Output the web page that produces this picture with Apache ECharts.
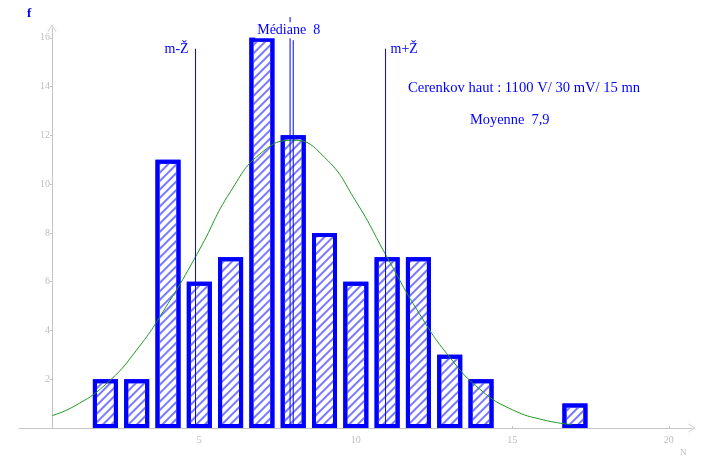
<!DOCTYPE html>
<html>
<head>
<meta charset="utf-8">
<script src="https://cdn.jsdelivr.net/npm/echarts@6/dist/echarts.min.js"></script>
<style>
  html, body { margin: 0; padding: 0; background: #fff; }
  #chart { width: 704px; height: 460px; }
</style>
</head>
<body>
<div id="chart"></div>
<script>
// Counts per class N (Cerenkov, top detector)
const classesN = [2, 3, 4, 5, 6, 7, 8, 9, 10, 11, 12, 13, 14, 17];
const counts   = [2, 2, 11, 6, 7, 16, 12, 8, 6, 7, 7, 3, 2, 1];

// Fitted normal curve, sampled points (N, f)
const curveN = [0.3, 1, 2, 3, 4, 5, 6, 7, 8, 9, 10, 11, 12, 13, 14, 15, 16, 16.9];
const curveF = [0.51, 0.89, 1.78, 3.2, 5.1, 7.3, 9.7, 11.3, 11.8, 11.1, 9.3, 7.0, 4.75, 2.9, 1.55, 0.75, 0.33, 0.14];

// Reference lines: position on N and height of the guide
const mean = 7.9;
const median = 8;
const meanMinusSigma = 4.88;
const meanPlusSigma = 10.95;
const sigmaGuideTop = 15.55;
const medianGuideTop = 15.9;
const meanGuideTop = 16.85;

const yTickValues = [2, 4, 6, 8, 10, 12, 14, 16];
const xTickValues = [5, 10, 15, 20];

const serif = '"Liberation Serif", "DejaVu Serif", serif';
const blue = '#0000ff';
const axisGrey = '#c4c4c4';
const chevron = 'path://M0,0 L6,10 L5,10 L0,2 L-5,10 L-6,10 Z';

const chart = echarts.init(document.getElementById('chart'), null, { renderer: 'canvas' });

const barData = classesN.map((n, i) => [n, counts[i]]);
const curveData = curveN.map((n, i) => [n, curveF[i]]);

// vertical guide drawn as a two-point line series, labelled at its top
function guide(x, top, text, labelOpts, z) {
  return {
    type: 'line',
    data: [[x, 0], [x, top]],
    showSymbol: false,
    symbol: 'none',
    clip: false,
    silent: true,
    z: z,
    color: blue,
    lineStyle: { color: blue, width: 1 },
    endLabel: text ? Object.assign({
      show: true,
      formatter: text,
      color: blue,
      fontFamily: serif,
      fontSize: 14,
      valueAnimation: false
    }, labelOpts) : { show: false }
  };
}

chart.setOption({
  animation: false,
  backgroundColor: '#ffffff',
  grid: { left: 19, right: 12, top: 28, bottom: 32 },
  xAxis: {
    type: 'value',
    min: -0.76,
    max: 20.74,
    axisLine: {
      show: true,
      onZero: false,
      symbol: ['none', chevron],
      symbolSize: [9, 9],
      lineStyle: { color: axisGrey, width: 1 }
    },
    axisTick: { show: true, customValues: xTickValues, length: 2, inside: true, lineStyle: { color: axisGrey } },
    axisLabel: {
      customValues: xTickValues,
      color: '#bdbdbd',
      fontFamily: serif,
      fontSize: 10,
      margin: 7
    },
    splitLine: { show: false }
  },
  yAxis: {
    type: 'value',
    min: 0,
    max: 16.4,
    offset: -33,
    axisLine: {
      show: true,
      onZero: false,
      symbol: ['none', chevron],
      symbolSize: [9, 9],
      lineStyle: { color: axisGrey, width: 1 }
    },
    axisTick: { show: true, customValues: yTickValues, length: 2, inside: false, lineStyle: { color: axisGrey } },
    axisLabel: {
      customValues: yTickValues,
      color: '#bdbdbd',
      fontFamily: serif,
      fontSize: 10,
      margin: 2
    },
    splitLine: { show: false }
  },
  series: [
    {
      type: 'bar',
      data: barData,
      barWidth: 25,
      z: 2,
      itemStyle: {
        color: '#ffffff',
        borderColor: blue,
        borderWidth: 4,
        decal: {
          symbol: 'rect',
          symbolSize: 1,
          color: '#7a7aff',
          dashArrayX: [1, 0],
          dashArrayY: [1.2, 4],
          rotation: -Math.PI / 4
        }
      }
    },
    {
      type: 'line',
      data: curveData,
      smooth: 0.5,
      showSymbol: false,
      clip: false,
      z: 4,
      lineStyle: { color: '#1f9a1f', width: 1 }
    },
    guide(mean, meanGuideTop, null, null, 5),
    guide(median, medianGuideTop, 'Médiane  8', { offset: [-46, -10], backgroundColor: '#ffffff', padding: [1, 2, 1, 2] }, 6),
    guide(meanMinusSigma, sigmaGuideTop, 'm-Ž', { offset: [-39, 1] }, 5),
    guide(meanPlusSigma, sigmaGuideTop, 'm+Ž', { offset: [-3, 1] }, 5)
  ],
  graphic: [
    {
      type: 'text', left: 27, top: 7,
      style: { text: 'f', fill: blue, font: 'bold 13px ' + serif }
    },
    {
      type: 'text', left: 680, top: 448,
      style: { text: 'N', fill: '#bdbdbd', font: '9px ' + serif }
    },
    {
      type: 'text', left: 408, top: 81,
      style: { text: 'Cerenkov haut : 1100 V/ 30 mV/ 15 mn', fill: blue, font: '14.6px ' + serif }
    },
    {
      type: 'text', left: 470, top: 113,
      style: { text: 'Moyenne  7,9', fill: blue, font: '14.4px ' + serif }
    }
  ]
});
</script>
</body>
</html>
